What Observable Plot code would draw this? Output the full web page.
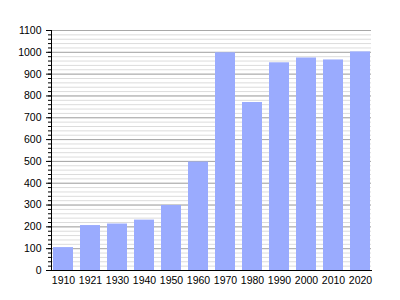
<!DOCTYPE html>
<html>
<head>
<meta charset="utf-8">
<script src="https://cdn.jsdelivr.net/npm/d3@7"></script>
<script src="https://cdn.jsdelivr.net/npm/@observablehq/plot@0.6"></script>
<style>
  html, body { margin: 0; padding: 0; background: #fff; }
  #chart svg { display: block; }
</style>
</head>
<body>
<div id="chart"></div>
<script>
const years = ["1910", "1921", "1930", "1940", "1950", "1960", "1970", "1980", "1990", "2000", "2010", "2020"];
const population = [105, 206, 213, 231, 298, 497, 998, 770, 952, 974, 965, 1002];
const majorTicks = [0, 100, 200, 300, 400, 500, 600, 700, 800, 900, 1000, 1100];
const minorTicks = d3.range(0, 1101, 20);

const data = years.map((y, i) => ({year: y, value: population[i]}));

const chart = Plot.plot({
  width: 400,
  height: 300,
  marginLeft: 51,
  marginRight: 29,
  marginTop: 30,
  marginBottom: 30,
  style: {fontFamily: "'Liberation Sans', Arial, sans-serif", fontSize: "10.5px", color: "#000", background: "#fff"},
  x: {domain: years, paddingInner: 0.27, paddingOuter: 0, label: null},
  y: {domain: [0, 1100], label: null},
  marks: [
    Plot.ruleY(minorTicks, {stroke: "#dcdcdc", strokeWidth: 1}),
    Plot.ruleY(majorTicks, {stroke: "#a8a8a8", strokeWidth: 1}),
    Plot.barY(data, {x: "year", y: "value", fill: "#9aabfe"}),
    Plot.axisY({ticks: minorTicks, tickSize: 3, text: null, label: null, stroke: "#000"}),
    Plot.axisY({ticks: majorTicks, tickSize: 5, tickPadding: 5, tickFormat: d3.format("d"), label: null, fill: "#000", stroke: "#000"}),
    Plot.axisX({tickSize: 0, tickPadding: 6, label: null, fill: "#000"}),
    Plot.frame({anchor: "left", stroke: "#000"}),
    Plot.frame({anchor: "bottom", stroke: "#000"})
  ]
});
document.getElementById("chart").appendChild(chart);
</script>
</body>
</html>
